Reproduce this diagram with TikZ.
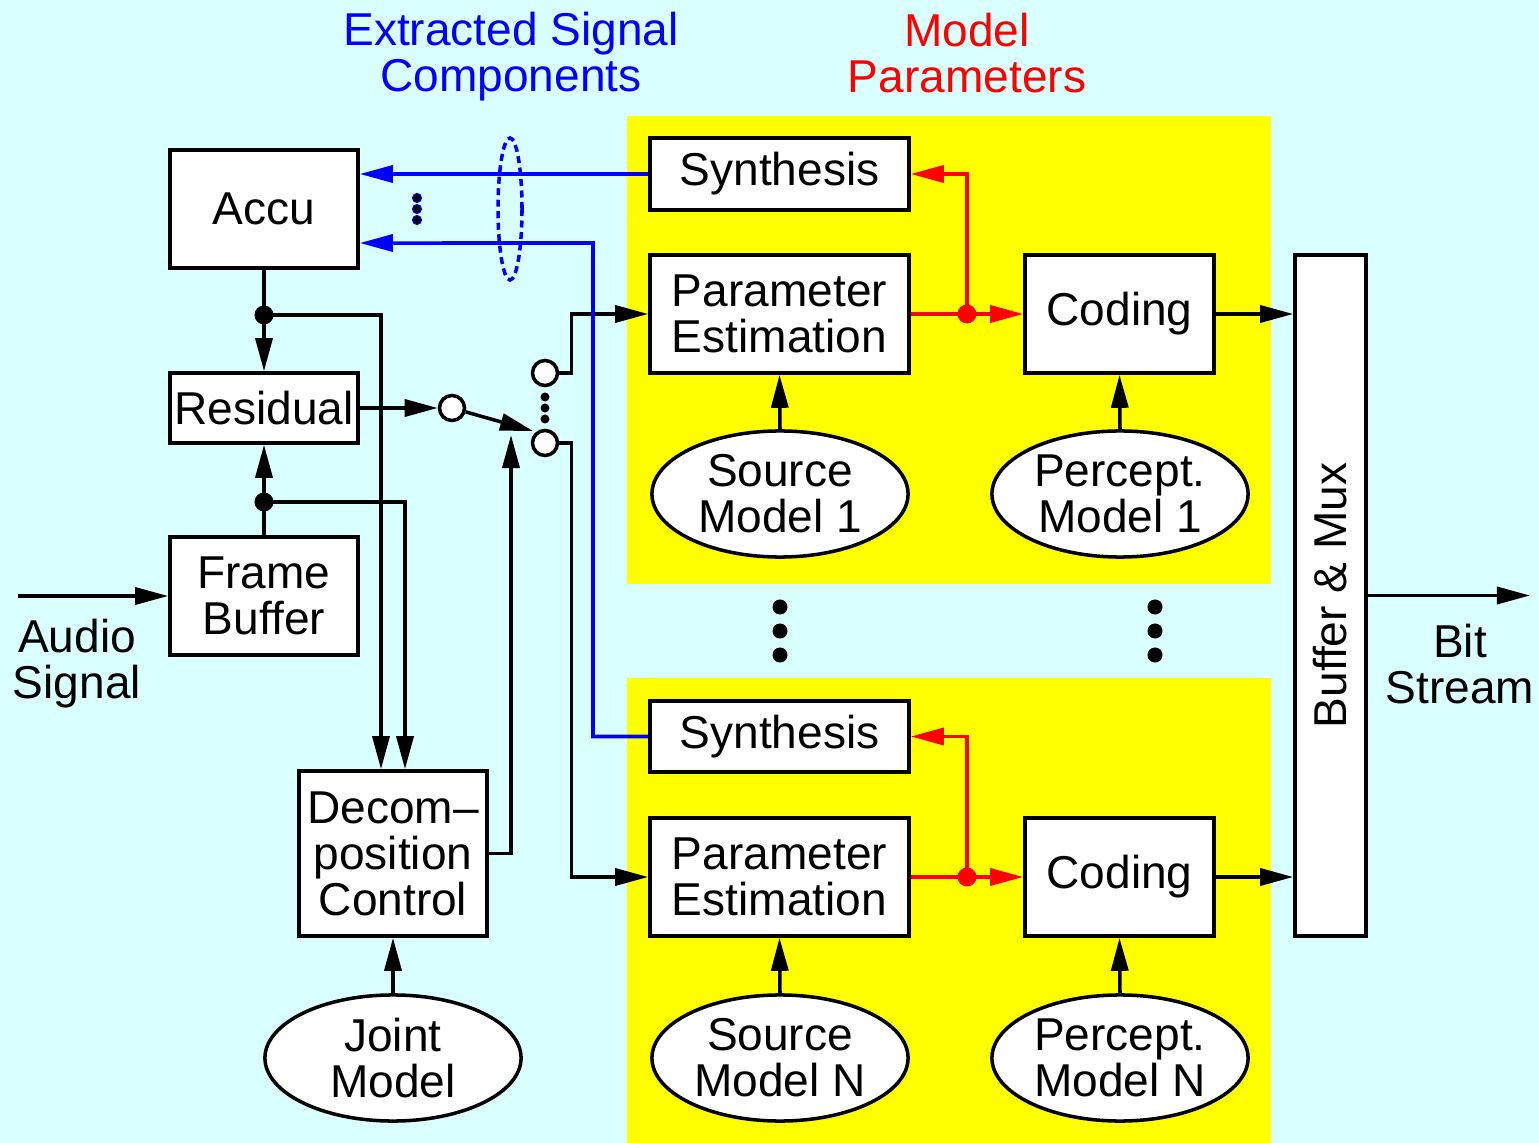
\documentclass[tikz,border=0pt]{standalone}
\usepackage{fontspec}
\setmainfont{Liberation Sans}
\usetikzlibrary{arrows.meta,shapes.geometric,calc}
\definecolor{bgcyan}{RGB}{217,255,255}
\definecolor{panel}{RGB}{255,255,0}
\newcommand\lblfont{\fontsize{13.1pt}{13.1pt}\selectfont}
\begin{document}
\begin{tikzpicture}[x=0.01cm,y=-0.01cm, line width=1pt,
  >={Triangle[length=0.33cm,width=0.17cm]},
  box/.style={draw, fill=white, inner sep=0pt, align=center, font=\lblfont},
  oval/.style={draw, fill=white, ellipse, inner sep=0pt, align=center, font=\lblfont,
    minimum width=2.56cm, minimum height=1.26cm},
  jdot/.style={circle, fill, inner sep=0pt, minimum size=0.19cm},
  contact/.style={circle, draw, fill=white, inner sep=0pt, minimum size=0.25cm},
  smalldot/.style={circle, fill, inner sep=0pt, minimum size=0.09cm},
  bigdot/.style={circle, fill, inner sep=0pt, minimum size=0.15cm},
  txt/.style={align=center, font=\lblfont, inner sep=0pt}]

% background and the two model panels
\fill[bgcyan] (0,0) rectangle (1539,1143);
\fill[panel] (627,116) rectangle (1271,584);
\fill[panel] (627,678) rectangle (1271,1143);

% headings
\node[txt, text=blue] (hdsig) at (511,57) {Extracted Signal\\Components};
\node[txt, text=red] (hdpar) at (967,53) {Model\\Parameters};

% left column
\node[box, minimum width=1.88cm, minimum height=1.18cm] (accu) at (264,209) {Accu};
\node[box, minimum width=1.88cm, minimum height=0.70cm] (resid) at (264,408) {Residual};
\node[box, minimum width=1.88cm, minimum height=1.18cm] (fb) at (264,596) {Frame\\Buffer};
\node[box, minimum width=1.88cm, minimum height=1.65cm] (decomp) at (393,853.5) {Decom\textendash\\position\\Control};
\node[oval] (jm) at (393,1058) {Joint\\Model};

% upper model panel
\node[box, minimum width=2.59cm, minimum height=0.72cm] (syn1) at (779.5,174) {Synthesis};
\node[box, minimum width=2.59cm, minimum height=1.18cm] (pe1) at (779.5,314) {Parameter\\Estimation};
\node[box, minimum width=1.89cm, minimum height=1.18cm] (cod1) at (1119.5,314) {Coding};
\node[oval] (sm1) at (780,494) {Source\\Model 1};
\node[oval] (pm1) at (1120,494) {Percept.\\Model 1};

% lower model panel
\node[box, minimum width=2.59cm, minimum height=0.71cm] (syn2) at (779.5,736.5) {Synthesis};
\node[box, minimum width=2.59cm, minimum height=1.18cm] (pe2) at (779.5,877) {Parameter\\Estimation};
\node[box, minimum width=1.89cm, minimum height=1.18cm] (cod2) at (1119.5,877) {Coding};
\node[oval] (smn) at (780,1058) {Source\\Model N};
\node[oval] (pmn) at (1120,1058) {Percept.\\Model N};

% multiplexer
\node[box, minimum width=0.71cm, minimum height=6.81cm] (buf) at (1330.5,595.5) {\rotatebox{90}{Buffer \& Mux}};

% input and output
\coordinate (ain) at (18,596);
\coordinate (bout) at (1530,595.5);
\node[txt] (atxt) at (77,664) {Audio\\Signal};
\node[txt] (btxt) at (1460,664) {Bit\\Stream};
\draw[->] (ain) -- (fb.west);
\draw[->] (buf.east) -- (bout);

% residual loop with junctions
\node[jdot] (j1) at (264,315) {};
\node[jdot] (j2) at (264,502) {};
\draw[->] (accu.south) -- (resid.north);
\draw[->] (fb.north) -- (resid.south);
\draw[->] (j1.center) -| ([xshift=-0.12cm]decomp.north);
\draw[->] (j2.center) -| ([xshift=0.12cm]decomp.north);

% component switch
\node[contact] (sw) at (452,408) {};
\node[contact] (c1) at (545,373) {};
\node[contact] (c2) at (545,443) {};
\node[smalldot] (sd1) at (545,397) {};
\node[smalldot] (sd2) at (545,408) {};
\node[smalldot] (sd3) at (545,419) {};
\coordinate (armtip) at (533,431);
\coordinate (ctrltip) at (511,435);
\draw[->] (resid.east) -- (sw.west);
\draw[->] (sw) -- (armtip);
\draw[->] (decomp.east) -| (ctrltip);
\draw[->] (c1.east) -- ++(12,0) |- (pe1.west);
\draw[->] (c2.east) -- ++(12,0) |- (pe2.west);

% extracted components back to the accumulator
\coordinate (bcorner) at (593,243);
\draw[blue,->] (syn1.west) -- (accu.east |- syn1.west);
\draw[blue,->] (syn2.west) -| (bcorner) -- ([yshift=-0.34cm]accu.east);
\draw[blue, dash pattern=on 0.07cm off 0.045cm] (510,209) ellipse [x radius=0.12cm, y radius=0.71cm];
\node[smalldot, fill=black, draw=blue, line width=0.3pt] (bd1) at (417,198) {};
\node[smalldot, fill=black, draw=blue, line width=0.3pt] (bd2) at (417,209) {};
\node[smalldot, fill=black, draw=blue, line width=0.3pt] (bd3) at (417,220) {};

% model parameters
\node[jdot, fill=red] (r1) at (967,314) {};
\node[jdot, fill=red] (r2) at (967,877) {};
\draw[red,->] (pe1.east) -- (cod1.west);
\draw[red,->] (r1.center) |- (syn1.east);
\draw[red,->] (pe2.east) -- (cod2.west);
\draw[red,->] (r2.center) |- (syn2.east);

% models feeding the estimators and coders
\draw[->] (sm1.north) -- (pe1.south);
\draw[->] (pm1.north) -- (cod1.south);
\draw[->] (smn.north) -- (pe2.south);
\draw[->] (pmn.north) -- (cod2.south);
\draw[->] (jm.north) -- (decomp.south);

% coders into the multiplexer
\draw[->] (cod1.east) -- (cod1.east -| buf.west);
\draw[->] (cod2.east) -- (cod2.east -| buf.west);

% ellipsis between the panels
\node[bigdot] (vd1) at (780,607) {};
\node[bigdot] (vd2) at (780,631) {};
\node[bigdot] (vd3) at (780,655) {};
\node[bigdot] (vd4) at (1155,607) {};
\node[bigdot] (vd5) at (1155,631) {};
\node[bigdot] (vd6) at (1155,655) {};
\end{tikzpicture}
\end{document}
